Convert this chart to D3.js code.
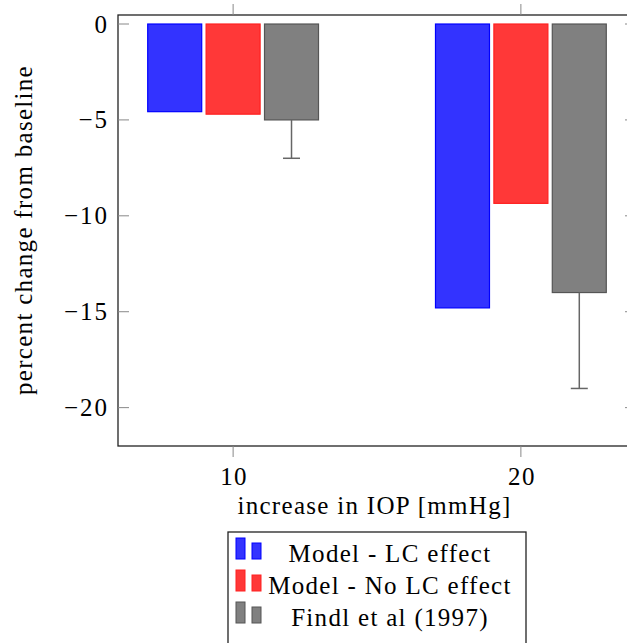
<!DOCTYPE html>
<html><head><meta charset="utf-8">
<script src="https://cdn.jsdelivr.net/npm/d3@7"></script>
<style>body{margin:0;background:#fff}svg{display:block}text{font-family:"Liberation Serif","Times New Roman",serif;fill:#000;letter-spacing:1.3px}</style>
</head><body>
<script>
const categories = [10, 20];
const seriesNames = ["Model - LC effect", "Model - No LC effect", "Findl et al (1997)"];
const lcEffect = [-4.57, -14.8];
const noLcEffect = [-4.7, -9.35];
const findl = [-5.0, -14.0];
const findlErrLow = [-7.0, -19.0];
const yTicks = [0, -5, -10, -15, -20];
const xTicks = [10, 20];

const fills = ["#3333ff", "#ff3838", "#808080"];
const strokes = ["#0000ff", "#ff2020", "#555555"];
const series = [lcEffect, noLcEffect, findl];

const W = 627, H = 643;
const svg = d3.select("body").append("svg").attr("width", W).attr("height", H);
const pL = 118, pR = 636, pT = 15, pB = 446;
const x = d3.scaleLinear().domain([6, 24]).range([pL, pR]);
const y = d3.scaleLinear().domain([0.47, -22]).range([pT, pB]);
const barW = 54, step = 58.4;
const FS = 25;

// bars
series.forEach((vals, si) => {
  svg.append("g").selectAll("rect").data(vals).join("rect")
    .attr("x", (d, i) => x(categories[i]) + (si - 1) * step - barW / 2)
    .attr("y", y(0))
    .attr("width", barW)
    .attr("height", d => y(d) - y(0))
    .attr("fill", fills[si]).attr("stroke", strokes[si]).attr("stroke-width", 1.2);
});
// error bars
const eg = svg.append("g").attr("stroke", "#666").attr("stroke-width", 1.5);
findl.forEach((v, i) => {
  const cx = x(categories[i]) + step;
  eg.append("line").attr("x1", cx).attr("x2", cx).attr("y1", y(v)).attr("y2", y(findlErrLow[i]));
  eg.append("line").attr("x1", cx - 8.5).attr("x2", cx + 8.5).attr("y1", y(findlErrLow[i])).attr("y2", y(findlErrLow[i]));
});

// axes frame
const ax = svg.append("g").attr("stroke", "#222").attr("stroke-width", 1.3).attr("fill", "none");
ax.append("rect").attr("x", pL).attr("y", pT).attr("width", pR - pL).attr("height", pB - pT);
// ticks
const tk = svg.append("g").attr("stroke", "#888").attr("stroke-width", 1);
yTicks.forEach(t => {
  tk.append("line").attr("x1", pL).attr("x2", pL + 11).attr("y1", y(t)).attr("y2", y(t));
  tk.append("line").attr("x1", pR).attr("x2", pR - 11).attr("y1", y(t)).attr("y2", y(t));
});
xTicks.forEach(t => {
  tk.append("line").attr("x1", x(t)).attr("x2", x(t)).attr("y1", pT).attr("y2", pT - 11);
  tk.append("line").attr("x1", x(t)).attr("x2", x(t)).attr("y1", pB).attr("y2", pB + 11);
});
// tick labels
svg.append("g").selectAll("text").data(yTicks).join("text")
  .attr("x", 109).attr("y", d => y(d) + 8.5).attr("text-anchor", "end")
  .attr("font-size", FS).style("letter-spacing", "2px")
  .text(d => d === 0 ? "0" : "\u2212" + Math.abs(d));
svg.append("g").selectAll("text").data(xTicks).join("text")
  .attr("x", d => x(d) + 1).attr("y", 485).attr("text-anchor", "middle")
  .attr("font-size", FS).text(d => d);
// axis labels
svg.append("text").attr("x", (237 + 512) / 2).attr("y", 514).attr("text-anchor", "middle")
  .attr("font-size", FS).text("increase in IOP [mmHg]");
svg.append("text").attr("transform", "translate(32,230) rotate(-90)").attr("text-anchor", "middle")
  .attr("font-size", FS).text("percent change from baseline");

// legend
const lg = svg.append("g");
lg.append("rect").attr("x", 228).attr("y", 532).attr("width", 298).attr("height", 130)
  .attr("fill", "#fff").attr("stroke", "#222").attr("stroke-width", 1.3);
seriesNames.forEach((name, i) => {
  const by = 559 + i * 32;
  lg.append("rect").attr("x", 236).attr("y", by - 21).attr("width", 9).attr("height", 21)
    .attr("fill", fills[i]).attr("stroke", strokes[i]).attr("stroke-width", 1);
  lg.append("rect").attr("x", 252).attr("y", by - 16).attr("width", 9).attr("height", 16)
    .attr("fill", fills[i]).attr("stroke", strokes[i]).attr("stroke-width", 1);
  lg.append("text").attr("x", 390).attr("y", by + 3).attr("text-anchor", "middle")
    .attr("font-size", FS).text(name);
});
</script>
</body></html>
